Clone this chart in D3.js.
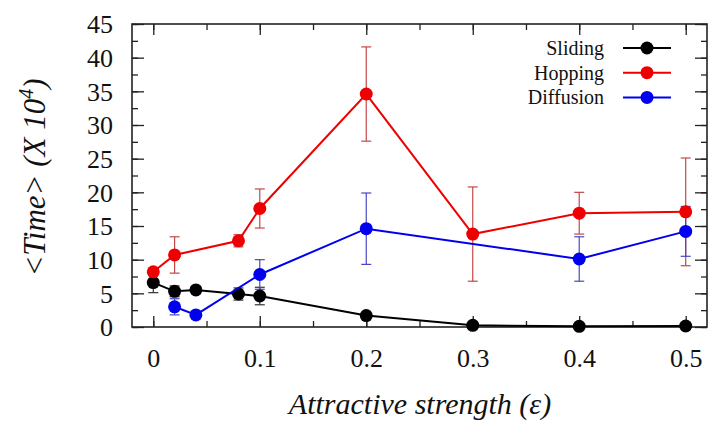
<!DOCTYPE html>
<html>
<head>
<meta charset="utf-8">
<script src="https://cdn.jsdelivr.net/npm/d3@7"></script>
<style>
  body { margin: 0; background: #fff; }
</style>
</head>
<body>
<div id="chart"></div>
<script>
// values (time in units of 10^4)
const xSliding = [0, 0.02, 0.04, 0.08, 0.1, 0.2, 0.3, 0.4, 0.5];
const ySliding = [6.6, 5.3, 5.5, 4.9, 4.6, 1.7, 0.25, 0.1, 0.15];
const eSliding = [1.5, 0.8, 0, 0.9, 1.3, 0, 0.5, 0.4, 0.5];

const xHopping = [0, 0.02, 0.08, 0.1, 0.2, 0.3, 0.4, 0.5];
const yHopping = [8.2, 10.7, 12.8, 17.6, 34.6, 13.8, 16.9, 17.1];
const eHopping = [0.5, 2.7, 0.9, 2.9, 7.0, 7.0, 3.1, 8.0];

const xDiffusion = [0.02, 0.04, 0.1, 0.2, 0.4, 0.5];
const yDiffusion = [3.0, 1.8, 7.8, 14.6, 10.1, 14.2];
const eDiffusion = [1.2, 0, 2.2, 5.3, 3.3, 3.7];

const seriesNames = ['Sliding', 'Hopping', 'Diffusion'];
const xTicks = [0, 0.1, 0.2, 0.3, 0.4, 0.5];
const yTicks = [0, 5, 10, 15, 20, 25, 30, 35, 40, 45];

const series = [
  { name: seriesNames[0], xs: xSliding, ys: ySliding, es: eSliding, color: '#000000', err: '#333333' },
  { name: seriesNames[1], xs: xHopping, ys: yHopping, es: eHopping, color: '#ee0000', err: '#c44848' },
  { name: seriesNames[2], xs: xDiffusion, ys: yDiffusion, es: eDiffusion, color: '#0000ee', err: '#4848c4' }
];

const serif = '"Liberation Serif", "Times New Roman", Times, "DejaVu Serif", serif';

const width = 711, height = 422;
const margin = { top: 24, right: 4, bottom: 95, left: 132 };
const w = width - margin.left - margin.right;
const h = height - margin.top - margin.bottom;

const svg = d3.select('#chart')
  .append('svg')
  .attr('width', width)
  .attr('height', height)
  .style('font-family', serif);
const g = svg.append('g')
  .attr('transform', `translate(${margin.left},${margin.top})`);

const x = d3.scaleLinear().domain([-0.02, 0.52]).range([0, w]);
const y = d3.scaleLinear().domain([0, 45]).range([h, 0]);

const minorX = d3.range(0, 0.51, 0.05);
const minorY = d3.range(0, 45.1, 2.5);

// inward ticks on all four sides
function tickAxis(axis, ticks, len, pos) {
  const a = g.append('g').attr('transform', pos)
    .call(axis.tickValues(ticks).tickSize(-len).tickFormat(''));
  a.select('.domain').remove();
  a.selectAll('line').attr('stroke', '#222').attr('stroke-width', 1.3);
}
tickAxis(d3.axisBottom(x), minorX, 6, `translate(0,${h})`);
tickAxis(d3.axisBottom(x), xTicks, 11, `translate(0,${h})`);
tickAxis(d3.axisTop(x), minorX, 6, 'translate(0,0)');
tickAxis(d3.axisTop(x), xTicks, 11, 'translate(0,0)');
tickAxis(d3.axisLeft(y), minorY, 6, 'translate(0,0)');
tickAxis(d3.axisLeft(y), yTicks, 12, 'translate(0,0)');
tickAxis(d3.axisRight(y), minorY, 6, `translate(${w},0)`);
tickAxis(d3.axisRight(y), yTicks, 12, `translate(${w},0)`);

g.append('rect')
  .attr('width', w).attr('height', h)
  .attr('fill', 'none').attr('stroke', '#222').attr('stroke-width', 1.6);

// tick labels
const xl = g.append('g').attr('transform', `translate(0,${h})`)
  .call(d3.axisBottom(x).tickValues(xTicks).tickSize(0).tickPadding(40)
    .tickFormat(d => d === 0 ? '0' : d3.format('.1f')(d)));
xl.select('.domain').remove();
xl.attr('font-family', null);
xl.selectAll('text').style('font-family', serif)
  .style('font-size', '26px').attr('fill', '#111').attr('dy', 0);

const yl = g.append('g')
  .call(d3.axisLeft(y).tickValues(yTicks).tickSize(0).tickPadding(19));
yl.select('.domain').remove();
yl.attr('font-family', null);
yl.selectAll('text').style('font-family', serif)
  .style('font-size', '26px').attr('fill', '#111').attr('dy', '0.34em');

// axis titles
svg.append('text')
  .attr('x', 420)
  .attr('y', 414)
  .attr('text-anchor', 'middle')
  .attr('fill', '#111')
  .style('font-family', serif)
  .style('font-size', '30px')
  .style('font-style', 'italic')
  .text('Attractive strength (ε)');

const yt = svg.append('text')
  .attr('transform', `translate(45,${margin.top + y(22.5) + 2}) rotate(-90)`)
  .attr('text-anchor', 'middle')
  .attr('fill', '#111')
  .style('font-family', serif)
  .style('font-size', '31px')
  .style('font-style', 'italic');
yt.append('tspan').text('<Time> (X 10');
yt.append('tspan').attr('dy', -12).style('font-size', '20px').text('4');
yt.append('tspan').attr('dy', 12).text(')');

// error bars, lines and points
const line = d3.line().x(d => x(d[0])).y(d => y(d[1]));
const cap = 5;

series.forEach(s => {
  const pts = s.xs.map((v, i) => [v, s.ys[i], s.es[i]]);
  const eg = g.append('g').attr('stroke', s.err).attr('stroke-width', 1.2);
  pts.filter(d => d[2] > 0).forEach(d => {
    const px = x(d[0]), lo = y(d[1] - d[2]), hi = y(d[1] + d[2]);
    eg.append('line').attr('x1', px).attr('x2', px).attr('y1', lo).attr('y2', hi);
    eg.append('line').attr('x1', px - cap).attr('x2', px + cap).attr('y1', lo).attr('y2', lo);
    eg.append('line').attr('x1', px - cap).attr('x2', px + cap).attr('y1', hi).attr('y2', hi);
  });
});

series.forEach(s => {
  const pts = s.xs.map((v, i) => [v, s.ys[i]]);
  g.append('path')
    .datum(pts)
    .attr('d', line)
    .attr('fill', 'none')
    .attr('stroke', s.color)
    .attr('stroke-width', 2);
  g.selectAll(null)
    .data(pts)
    .enter()
    .append('circle')
    .attr('cx', d => x(d[0]))
    .attr('cy', d => y(d[1]))
    .attr('r', 6.5)
    .attr('fill', s.color);
});

// legend
const lg = svg.append('g');
series.forEach((s, i) => {
  const yy = 48 + i * 24.7;
  lg.append('text')
    .attr('x', 604).attr('y', yy + 7)
    .attr('text-anchor', 'end')
    .attr('fill', '#111')
    .style('font-family', serif)
    .style('font-size', '20px')
    .text(s.name);
  lg.append('line')
    .attr('x1', 623).attr('x2', 671).attr('y1', yy).attr('y2', yy)
    .attr('stroke', s.color).attr('stroke-width', 2);
  lg.append('circle')
    .attr('cx', 647).attr('cy', yy).attr('r', 6.5)
    .attr('fill', s.color);
});
</script>
</body>
</html>
